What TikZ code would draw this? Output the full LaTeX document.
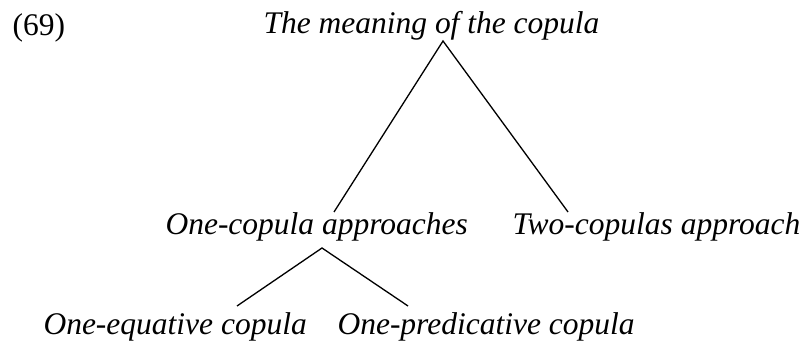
\documentclass[tikz,border=0pt]{standalone}
\usepackage{fontspec}
\setmainfont{Liberation Serif}
\begin{document}
\begin{tikzpicture}[x=0.381pt,y=-0.381pt,
        every node/.style={inner sep=0pt,anchor=base west,font=\fontsize{12}{14.4}\selectfont},
        term/.style={font=\fontsize{12}{14.4}\selectfont\itshape},
        branch/.style={line width=0.5pt}]
        \useasboundingbox (0,0) rectangle (809,343);
        \node (num) at (12,36) {(69)};
        \node[term] (meaning) at (263,34) {The meaning of the copula};
        \node[term] (onecop) at (165,235) {One-copula approaches};
        \node[term] (twocop) at (512,235) {Two-copulas approach};
        \node[term] (equat) at (43,335) {One-equative copula};
        \node[term] (predic) at (337,335) {One-predicative copula};
        \draw[branch] ([shift={(169,-23)}]onecop.base west) -- ([shift={(180,7)}]meaning.base west) -- ([shift={(56,-23)}]twocop.base west);
        \draw[branch] ([shift={(194,-29)}]equat.base west) -- ([shift={(157,13)}]onecop.base west) -- ([shift={(71,-29)}]predic.base west);
    \end{tikzpicture}
\end{document}
